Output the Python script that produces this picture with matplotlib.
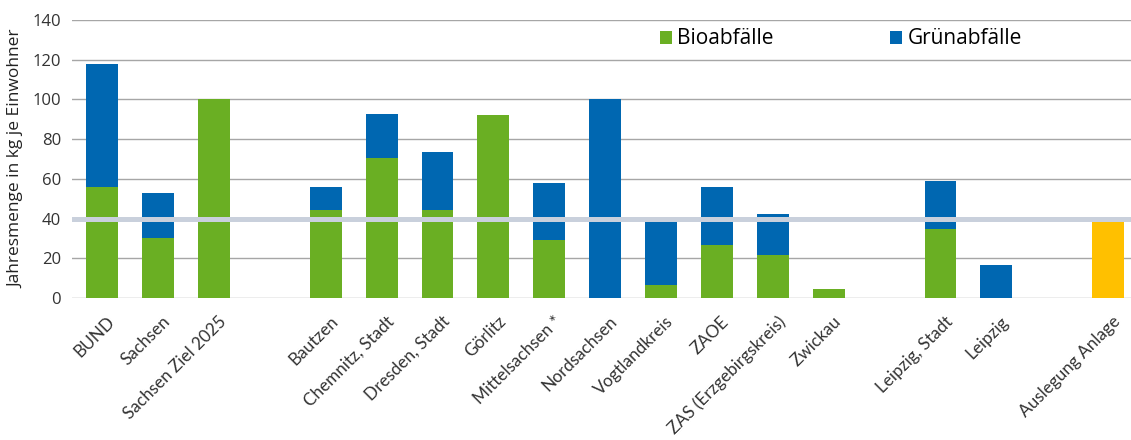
import numpy as np
import matplotlib.pyplot as plt
from matplotlib.transforms import ScaledTranslation

plt.rcParams['font.family'] = ['Open Sans', 'DejaVu Sans']

nan = np.nan
# '' = leere Spalte zwischen den Gruppen
labels = ['BUND', 'Sachsen', 'Sachsen Ziel 2025', '',
          'Bautzen', 'Chemnitz, Stadt', 'Dresden, Stadt', 'Görlitz', 'Mittelsachsen *',
          'Nordsachsen', 'Vogtlandkreis', 'ZAOE', 'ZAS (Erzgebirgskreis)', 'Zwickau', '',
          'Leipzig, Stadt', 'Leipzig', '', 'Auslegung Anlage']
bio = [56, 30, 100, nan, 44.5, 70.5, 44.5, 92, 29, 0, 6.5, 26.5, 21.5, 4.5, nan, 34.6, 0, nan, 0]
gruen = [62, 23, 0, nan, 11.3, 22.2, 29, 0, 29, 100, 32.6, 29.3, 21, 0, nan, 24.2, 16.8, nan, 0]
anlage = [nan] * 18 + [40]
linie = 40

green = '#6aaf23'
blue = '#0067b1'
orange = '#ffc000'

x = np.arange(len(labels))
bio_arr = np.array(bio, dtype=float)
gruen_arr = np.array(gruen, dtype=float)

fig = plt.figure(figsize=(11.31, 4.4), dpi=100)
ax = fig.add_axes([72 / 1131, 1 - 298 / 440, 1 - 72 / 1131, 278 / 440])

w = 0.57
ax.bar(x, bio_arr, w, color=green, label='Bioabfälle', zorder=2)
ax.bar(x, gruen_arr, w, bottom=bio_arr, color=blue, label='Grünabfälle', zorder=2)
ax.bar(x, anlage, w, color=orange, zorder=2)
ax.axhline(linie, color='#c9d0dc', lw=3.6, zorder=3)

ax.set_ylim(0, 140)
ax.set_xlim(-0.54, 18.41)
ax.set_yticks(range(0, 141, 20))
ax.yaxis.grid(True, color='#a6a6a6', lw=1, zorder=0)
ax.set_axisbelow(True)
for s in ax.spines.values():
    s.set_visible(False)
ax.tick_params(length=0, colors='#333333')
ax.tick_params(axis='y', pad=8, labelsize=12)
ax.tick_params(axis='x', pad=11)
ax.set_xticks(x)
ax.set_xticklabels(labels, rotation=45, ha='right', rotation_mode='anchor',
                   family=['Lato', 'DejaVu Sans'], fontsize=12.3)
shift = ScaledTranslation(4 / 100, 0, fig.dpi_scale_trans)
for lbl in ax.get_xticklabels():
    lbl.set_transform(lbl.get_transform() + shift)
ax.set_ylabel('Jahresmenge in kg je Einwohner', fontsize=12.5, color='#222222', labelpad=6)

fig.legend(loc='center left', bbox_to_anchor=(641 / 1131, 1 - 39 / 440), ncol=2,
           frameon=False, fontsize=15, handlelength=0.58, handleheight=0.58,
           handletextpad=0.25, columnspacing=5.6)

fig.savefig('out.png', dpi=100)
